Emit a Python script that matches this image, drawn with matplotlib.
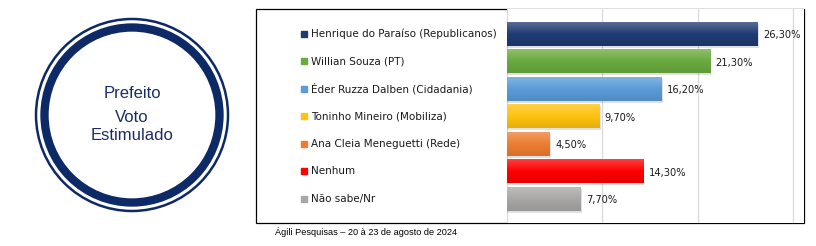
import matplotlib.pyplot as plt
import numpy as np
from matplotlib.patches import Circle, Rectangle
from matplotlib.colors import LinearSegmentedColormap, to_rgb
from matplotlib.transforms import blended_transform_factory

candidates = [
    "Henrique do Paraíso (Republicanos)",
    "Willian Souza (PT)",
    "Éder Ruzza Dalben (Cidadania)",
    "Toninho Mineiro (Mobiliza)",
    "Ana Cleia Meneguetti (Rede)",
    "Nenhum",
    "Não sabe/Nr",
]
votes = [26.3, 21.3, 16.2, 9.7, 4.5, 14.3, 7.7]
colors = ["#1F3B73", "#6AAA3F", "#5A9BD8", "#FFC20E", "#ED7D31", "#FF0000", "#A9A6A6"]
title_lines = ["Prefeito", "Voto", "Estimulado"]
source = "Ágili Pesquisas – 20 à 23 de agosto de 2024"

W, H = 816, 246
fig = plt.figure(figsize=(W / 100, H / 100), dpi=100)

# pixel-space canvas for the decorations
bg = fig.add_axes([0, 0, 1, 1])
bg.set_xlim(0, W)
bg.set_ylim(H, 0)
bg.axis("off")

navy = "#0E2A66"
cx, cy = 132, 115
bg.add_patch(Circle((cx, cy), 96, fill=False, ec=navy, lw=1.8))
bg.add_patch(Circle((cx, cy), 87.5, fill=False, ec=navy, lw=6.0))
for txt, y in zip(title_lines, [93, 118, 136]):
    bg.text(cx, y, txt, ha="center", va="center", color="#1B2F5E",
            fontsize=12, family="Liberation Sans")

# chart frame
bg.add_patch(Rectangle((256, 9), 548, 214, fill=False, ec="black", lw=0.9))
bg.text(275, 232, source, ha="left", va="center", fontsize=6.6,
        family=["Liberation Sans Narrow", "Liberation Sans"], color="black")

# bar plot area
x0, x1, y0, y1 = 507, 804, 9, 223
ax = fig.add_axes([x0 / W, 1 - y1 / H, (x1 - x0) / W, (y1 - y0) / H])
ax.set_xlim(0, 31.15)
ax.set_ylim(6.88, -0.9)
ax.set_xticks([0, 10, 20, 30])
ax.set_yticks([])
ax.tick_params(length=0, labelbottom=False)
ax.grid(axis="x", color="#D9D9D9", lw=0.9)
ax.set_axisbelow(True)
for s in ax.spines.values():
    s.set_visible(False)

h = 0.87
pos = np.arange(len(votes))
for i, (v, c) in enumerate(zip(votes, colors)):
    # soft drop shadow
    ax.barh(i + 0.07, v + 0.12, height=h, color="#000000", alpha=0.12, zorder=2)
    base = np.array(to_rgb(c))
    light = base + (1 - base) * 0.25
    dark = base * 0.9
    cmap = LinearSegmentedColormap.from_list("g", [light, base, dark])
    grad = np.linspace(0, 1, 64).reshape(-1, 1)
    ax.imshow(grad, cmap=cmap, aspect="auto", zorder=3,
              extent=(0, v, i + h / 2, i - h / 2), interpolation="bilinear")
    ax.text(v + 0.55, i + 0.05, f"{v:.2f}%".replace(".", ","), ha="left",
            va="center", fontsize=7.1, color="#1a1a1a", zorder=4)
ax.set_xlim(0, 31.15)
ax.set_ylim(6.88, -0.9)

# legend entries on the left of the frame
tr = blended_transform_factory(fig.transFigure, ax.transData)
for i, (name, c) in enumerate(zip(candidates, colors)):
    ax.plot([304 / W], [i], marker="s", ms=5, color=c, transform=tr,
            clip_on=False, zorder=5)
    ax.text(311 / W, i, name, transform=tr, ha="left", va="center",
            fontsize=7.5, color="#1a1a1a", clip_on=False)

fig.savefig("out.png", dpi=100)
